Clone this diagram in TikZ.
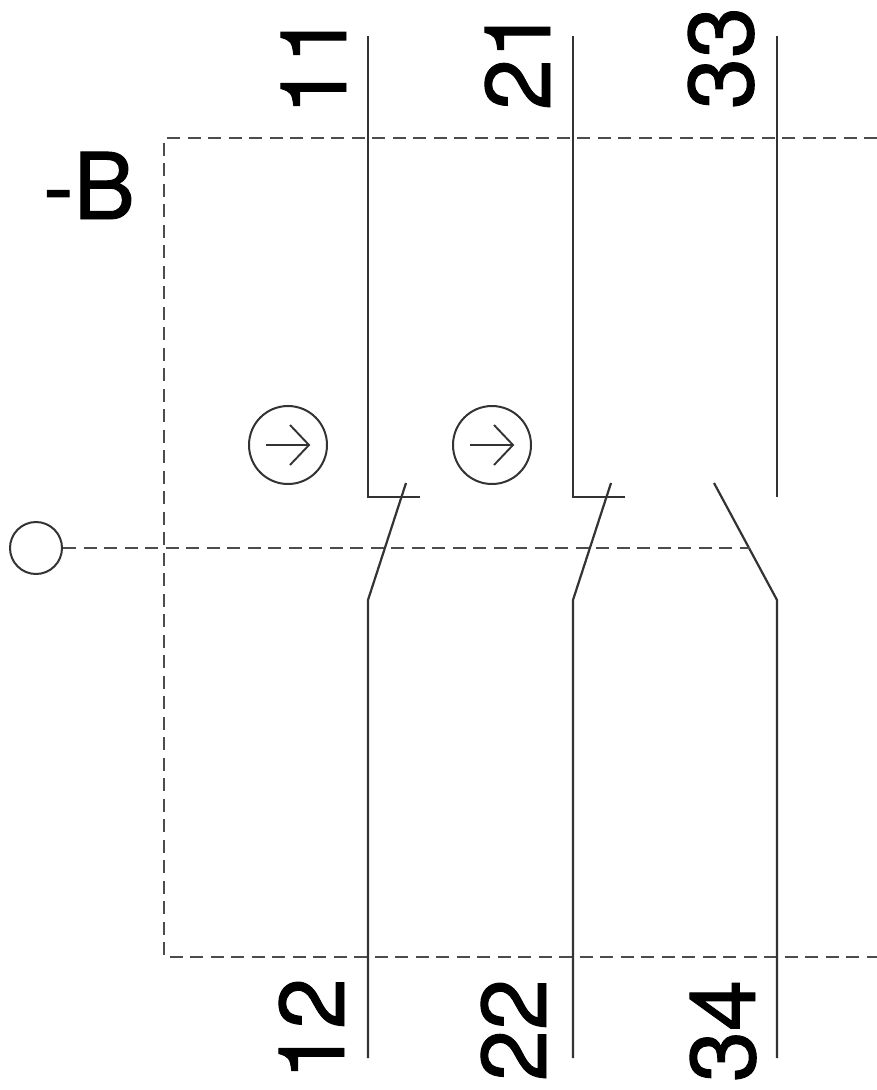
\documentclass[tikz,border=0pt]{standalone}
\usepackage{fontspec}
\setmainfont{TeX Gyre Heros}
\newfontfamily\labelfont[FakeBold=1.0]{TeX Gyre Heros}
\tikzset{
  wire/.style={draw=black!80,line width=2.2pt,line cap=butt,line join=miter},
  mech/.style={draw=black!70,line width=2.6pt,dash pattern=on 13pt off 7.5pt},
  termlabel/.style={inner sep=0pt,font=\labelfont\fontsize{92}{92}\selectfont,rotate=90,anchor=base},
  ringmark/.style={circle,draw=black!80,line width=2pt,minimum size=78pt,inner sep=0pt},
  knob/.style={circle,draw=black!80,line width=2pt,fill=white,minimum size=52pt,inner sep=0pt}
}
\begin{document}
\begin{tikzpicture}[x=1pt,y=-1pt]
\useasboundingbox (0,0) rectangle (877,1090);
% enclosure
\coordinate (boxR1) at (877,138);
\coordinate (boxTL) at (164,138);
\coordinate (boxBL) at (164,957);
\coordinate (boxR2) at (877,957);
\draw[mech] (boxR1) -- (boxTL) -- (boxBL) -- (boxR2);
% terminals and contacts
\foreach \n/\x in {a/368,b/573,c/777}{
  \coordinate (top\n) at (\x,36);
  \coordinate (bot\n) at (\x,1058);
  \coordinate (hinge\n) at (\x,600);
  \coordinate (fix\n) at (\x,497);
}
\coordinate (stopa) at (420,497);
\coordinate (stopb) at (625,497);
\coordinate (tipa) at (406,483);
\coordinate (tipb) at (611,483);
\coordinate (tipc) at (714,483);
\draw[wire] (topa) -- (fixa) -- (stopa);
\draw[wire] (topb) -- (fixb) -- (stopb);
\draw[wire] (topc) -- (fixc);
\draw[wire] (bota) -- (hingea) -- (tipa);
\draw[wire] (botb) -- (hingeb) -- (tipb);
\draw[wire] (botc) -- (hingec) -- (tipc);
% actuator
\node[knob] (knob) at (36,548) {};
\coordinate (linkend) at (750,548);
\draw[mech] (knob) -- (linkend);
% positive-opening marks
\foreach \n/\x in {p/288,q/492}{
  \node[ringmark] (ring\n) at (\x,445) {};
  \coordinate (tail\n) at (\x-22,445);
  \coordinate (head\n) at (\x+21,445);
  \coordinate (upper\n) at (\x+2,425);
  \coordinate (lower\n) at (\x+2,465);
  \draw[draw=black!80,line width=1.9pt] (tail\n) -- (head\n);
  \draw[draw=black!80,line width=1.9pt] (upper\n) -- (head\n) -- (lower\n);
}
% labels
\node[termlabel] (t11) at (346,64) {11};
\node[termlabel] (t21) at (550,59) {21};
\node[termlabel] (t33) at (753,58) {33};
\node[termlabel] (t12) at (344,1029) {12};
\node[termlabel] (t22) at (546,1030) {22};
\node[termlabel] (t34) at (755,1031) {34};
\node[inner sep=0pt,font=\labelfont\fontsize{92}{92}\selectfont,anchor=base] (tag) at (89,219) {-B};
\end{tikzpicture}
\end{document}
